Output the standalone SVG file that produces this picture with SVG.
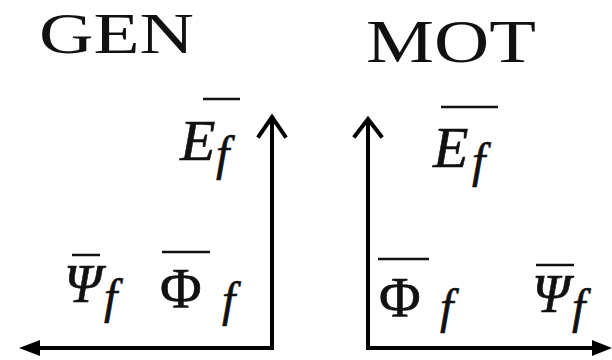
<svg xmlns="http://www.w3.org/2000/svg" width="612" height="360" viewBox="0 0 612 360">
<style>
.title{font-family:"Liberation Serif","Times New Roman",serif;fill:#111}
.it{font-family:"Liberation Serif","Times New Roman",serif;font-style:italic;fill:#111;stroke:#111;stroke-width:0.6}
.up{font-family:"Liberation Serif","Times New Roman",serif;fill:#111;stroke:#111;stroke-width:0.6}
.bar{stroke:#111;stroke-width:2.5}
.ax{stroke:#000;stroke-width:4;fill:none}
.head{stroke:#000;stroke-width:4;fill:none;stroke-linecap:square}
</style>
<rect width="612" height="360" fill="#fff"/>
<g id="gen-title"><text class="title" x="39" y="53" font-size="57" textLength="155" lengthAdjust="spacingAndGlyphs">GEN</text></g>
<g id="mot-title"><text class="title" x="366" y="62" font-size="62" textLength="170" lengthAdjust="spacingAndGlyphs">MOT</text></g>
<g id="gen-E">
<line class="bar" x1="203" y1="99" x2="240" y2="99"/>
<text class="it" x="180" y="160" font-size="58">E</text>
<text class="it" x="216" y="170" font-size="48">f</text>
</g>
<g id="mot-E">
<line class="bar" x1="441" y1="107" x2="498" y2="107"/>
<text class="it" x="433" y="167" font-size="58">E</text>
<text class="it" x="472" y="177" font-size="48">f</text>
</g>
<g id="gen-Psi">
<line class="bar" x1="72" y1="255" x2="100" y2="255"/>
<text class="it" x="64" y="302" font-size="54">Ψ</text>
<text class="it" x="104" y="313" font-size="48">f</text>
</g>
<g id="gen-Phi">
<line class="bar" x1="162" y1="252" x2="210" y2="252"/>
<text class="up" x="160" y="308" font-size="57">Φ</text>
<text class="it" x="222" y="316" font-size="48">f</text>
</g>
<g id="mot-Phi">
<line class="bar" x1="378" y1="259" x2="429" y2="259"/>
<text class="up" x="379" y="317" font-size="57">Φ</text>
<text class="it" x="440" y="323" font-size="48">f</text>
</g>
<g id="mot-Psi">
<line class="bar" x1="536" y1="265" x2="574" y2="265"/>
<text class="it" x="532" y="312" font-size="54">Ψ</text>
<text class="it" x="572" y="323" font-size="48">f</text>
</g>
<g id="connectors">
<path class="ax" d="M272 116 V348 H36"/>
<polyline class="head" points="259,136 272,117 285,136"/>
<polygon points="19,348 40,340 40,356" fill="#000"/>
<path class="ax" d="M368 119 V348 H596"/>
<polyline class="head" points="355,136 368,119 381,136"/>
<polygon points="612,348 592,340 592,356" fill="#000"/>
</g>
</svg>
